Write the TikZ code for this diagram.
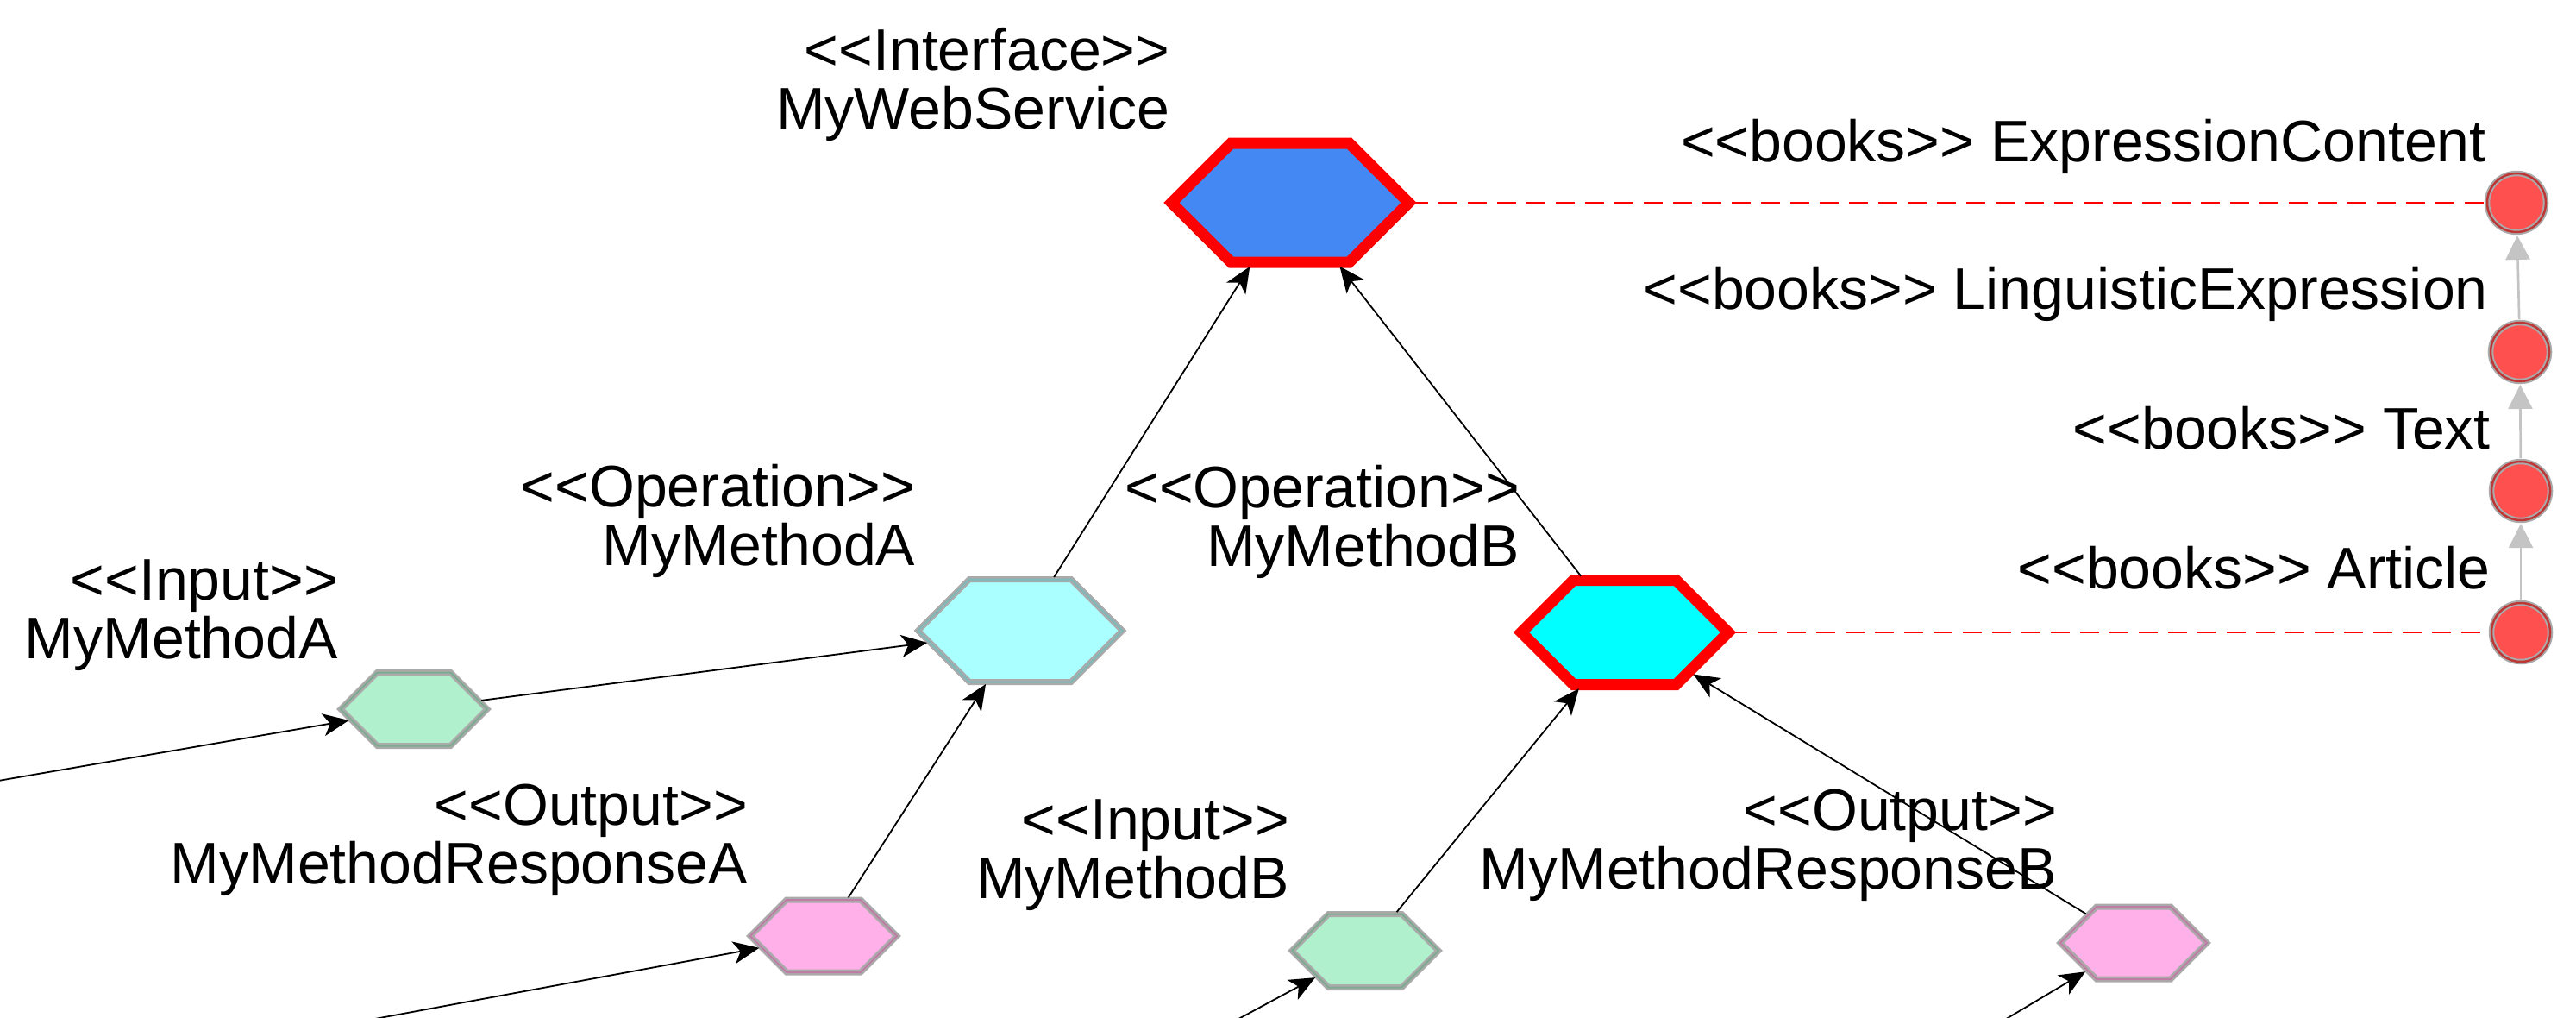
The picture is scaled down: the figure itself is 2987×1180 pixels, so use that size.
\documentclass[tikz,border=0pt]{standalone}
\usepackage{fontspec}
\setmainfont{Liberation Sans}[Ligatures=TeXOff]
\usetikzlibrary{arrows.meta}

\makeatletter
\newdimen\hx@a \newdimen\hx@b \newdimen\hx@c \newdimen\hx@dx \newdimen\hx@dy \newdimen\hx@px \newdimen\hx@py
\pgfdeclareshape{hexa}{%
  \savedanchor\hexcorner{%
    \pgfmathsetlength\pgf@xa{\pgfkeysvalueof{/pgf/minimum width}}%
    \pgfmathsetlength\pgf@ya{\pgfkeysvalueof{/pgf/minimum height}}%
    \pgf@x=.5\pgf@xa
    \pgf@y=.5\pgf@ya
  }%
  \anchor{center}{\pgfpointorigin}%
  \anchor{text}{\pgfpointorigin}%
  \anchor{north}{\hexcorner\pgf@x=0pt}%
  \anchor{south}{\hexcorner\pgf@x=0pt\pgf@y=-\pgf@y}%
  \anchor{east}{\hexcorner\pgf@y=0pt}%
  \anchor{west}{\hexcorner\pgf@x=-\pgf@x\pgf@y=0pt}%
  \anchor{north east}{\hexcorner}%
  \anchor{north west}{\hexcorner\pgf@x=-\pgf@x}%
  \anchor{south east}{\hexcorner\pgf@y=-\pgf@y}%
  \anchor{south west}{\hexcorner\pgf@x=-\pgf@x\pgf@y=-\pgf@y}%
  \anchorborder{%
    \hx@px=\pgf@x \hx@py=\pgf@y
    \hx@dx=\pgf@x \ifdim\hx@dx<0pt \hx@dx=-\hx@dx\fi
    \hx@dy=\pgf@y \ifdim\hx@dy<0pt \hx@dy=-\hx@dy\fi
    \hexcorner
    \hx@a=\pgf@x \hx@b=\pgf@y
    \pgfmathsetmacro\hx@t{min(\hx@a/max(\hx@dx+\hx@dy,0.01pt),\hx@b/max(\hx@dy,0.01pt))}%
    \pgf@x=\hx@t\hx@px
    \pgf@y=\hx@t\hx@py
  }%
  \backgroundpath{%
    \hexcorner
    \hx@a=\pgf@x \hx@b=\pgf@y
    \hx@c=\hx@a \advance\hx@c by -\hx@b
    \pgfpathmoveto{\pgfqpoint{-\hx@a}{0pt}}%
    \pgfpathlineto{\pgfqpoint{-\hx@c}{\hx@b}}%
    \pgfpathlineto{\pgfqpoint{\hx@c}{\hx@b}}%
    \pgfpathlineto{\pgfqpoint{\hx@a}{0pt}}%
    \pgfpathlineto{\pgfqpoint{\hx@c}{-\hx@b}}%
    \pgfpathlineto{\pgfqpoint{-\hx@c}{-\hx@b}}%
    \pgfpathclose
  }%
}
\makeatother

\newcommand{\stt}[1]{<\kern0pt<#1>\kern0pt>}

\definecolor{ifaceBlue}{RGB}{68,136,244}
\definecolor{opAFill}{RGB}{170,255,255}
\definecolor{opALine}{RGB}{125,185,185}
\definecolor{opBFill}{RGB}{0,255,255}
\definecolor{inFill}{RGB}{176,240,204}
\definecolor{inLine}{RGB}{125,170,145}
\definecolor{outFill}{RGB}{255,176,232}
\definecolor{outLine}{RGB}{190,125,165}
\definecolor{gBorder}{RGB}{170,170,170}
\definecolor{circFill}{RGB}{255,80,80}
\definecolor{circLine}{RGB}{190,55,55}
\definecolor{arrGray}{RGB}{196,196,196}

\begin{document}
\begin{tikzpicture}[x=1pt,y=-1pt,
  hexbase/.style={shape=hexa, inner sep=0pt, outer sep=0pt},
  ifacehex/.style={hexbase, fill=ifaceBlue, draw=red, line width=13pt, minimum width=275pt, minimum height=138pt},
  opbhex/.style={hexbase, fill=opBFill, draw=red, line width=13pt, minimum width=240pt, minimum height=121pt},
  opahex/.style={hexbase, fill=opAFill, draw=gBorder, line width=2.5pt, double=opALine, double distance=2pt, minimum width=237pt, minimum height=119pt},
  inhex/.style={hexbase, fill=inFill, draw=gBorder, line width=2.5pt, double=inLine, double distance=2pt, minimum width=170pt, minimum height=85pt},
  outhex/.style={hexbase, fill=outFill, draw=gBorder, line width=2.5pt, double=outLine, double distance=2pt, minimum width=170pt, minimum height=84pt},
  bookc/.style={circle, inner sep=0pt, minimum size=68pt, fill=circFill, draw=gBorder, line width=2pt, double=circLine, double distance=2.5pt},
  lbltwo/.style={anchor=south east, align=right, inner sep=0pt, font=\fontsize{68pt}{68pt}\selectfont},
  lblone/.style={anchor=base east, inner sep=0pt, font=\fontsize{68pt}{68pt}\selectfont},
  blk/.style={draw=black, line width=1.8pt, -{Stealth[length=30pt,width=26pt,inset=8pt]}},
  gry/.style={draw=arrGray, line width=2.7pt, -{Triangle[length=28pt,width=28pt]}, shorten >=3pt, shorten <=3pt},
  reddash/.style={draw=red, line width=2pt, dash pattern=on 22pt off 12pt}
]
\useasboundingbox (0,0) rectangle (2987,1180);
\clip (0,0) rectangle (2987,1180);

% nodes
\node[ifacehex] (iface) at (1496,235) {};
\node[opbhex] (opB) at (1884,733) {};
\node[opahex] (opA) at (1183,731) {};
\node[inhex] (inA) at (480,822) {};
\node[outhex] (outA) at (955,1085) {};
\node[inhex] (inB) at (1583,1102) {};
\node[outhex] (outB) at (2474,1093) {};
\node[bookc] (c1) at (2918,235) {};
\node[bookc] (c2) at (2922,408) {};
\node[bookc] (c3) at (2923,569) {};
\node[bookc] (c4) at (2923,733) {};

% labels
\node[lbltwo] (ifaceL) at ([xshift=-2pt,yshift=2pt]iface.north west) {\stt{Interface}\\MyWebService};
\node[lbltwo] (opAL) at ([xshift=-3pt,yshift=2pt]opA.north west) {\stt{Operation}\\MyMethodA};
\node[lbltwo] (opBL) at ([xshift=-2pt,yshift=2pt]opB.north west) {\stt{Operation}\\MyMethodB};
\node[lbltwo] (inAL) at ([xshift=-3pt,yshift=2pt]inA.north west) {\stt{Input}\\MyMethodA};
\node[lbltwo] (outAL) at ([xshift=-3pt,yshift=4pt]outA.north west) {\stt{Output}\\MyMethodResponseA};
\node[lbltwo] (inBL) at ([xshift=-3pt,yshift=4pt]inB.north west) {\stt{Input}\\MyMethodB};
\node[lbltwo] (outBL) at ([xshift=-4pt,yshift=6pt]outB.north west) {\stt{Output}\\MyMethodResponseB};
\node[lblone] (c1L) at ([xshift=-35pt,yshift=48pt]c1.center) {\stt{books} ExpressionContent};
\node[lblone] (c2L) at ([xshift=-37pt,yshift=50pt]c2.center) {\stt{books} LinguisticExpression};
\node[lblone] (c3L) at ([xshift=-35pt,yshift=49pt]c3.center) {\stt{books} Text};
\node[lblone] (c4L) at ([xshift=-35pt,yshift=51pt]c4.center) {\stt{books} Article};

% free ends outside the picture
\coordinate (eA) at (-240,946);
\coordinate (eOA) at (180,1228);
\coordinate (eB) at (1293,1258);
\coordinate (eOB) at (2182,1267);

% connectors
\draw[reddash] (iface) -- (c1);
\draw[reddash] (opB) -- (c4);
\draw[gry] (c2) -- (c1);
\draw[gry] (c3) -- (c2);
\draw[gry] (c4) -- (c3);
\draw[blk, shorten >=6pt, shorten <=3pt] (opA) -- (iface);
\draw[blk, shorten >=6pt, shorten <=6pt] (opB) -- (iface);
\draw[blk, shorten >=3pt, shorten <=3pt] (inA) -- (opA);
\draw[blk, shorten >=3pt, shorten <=3pt] (outA) -- (opA);
\draw[blk, shorten >=6pt, shorten <=3pt] (inB) -- (opB);
\draw[blk, shorten >=6pt, shorten <=3pt] (outB) -- (opB);
\draw[blk, shorten >=3pt] (eA) -- (inA);
\draw[blk, shorten >=3pt] (eOA) -- (outA);
\draw[blk, shorten >=3pt] (eB) -- (inB);
\draw[blk, shorten >=3pt] (eOB) -- (outB);
\end{tikzpicture}
\end{document}
